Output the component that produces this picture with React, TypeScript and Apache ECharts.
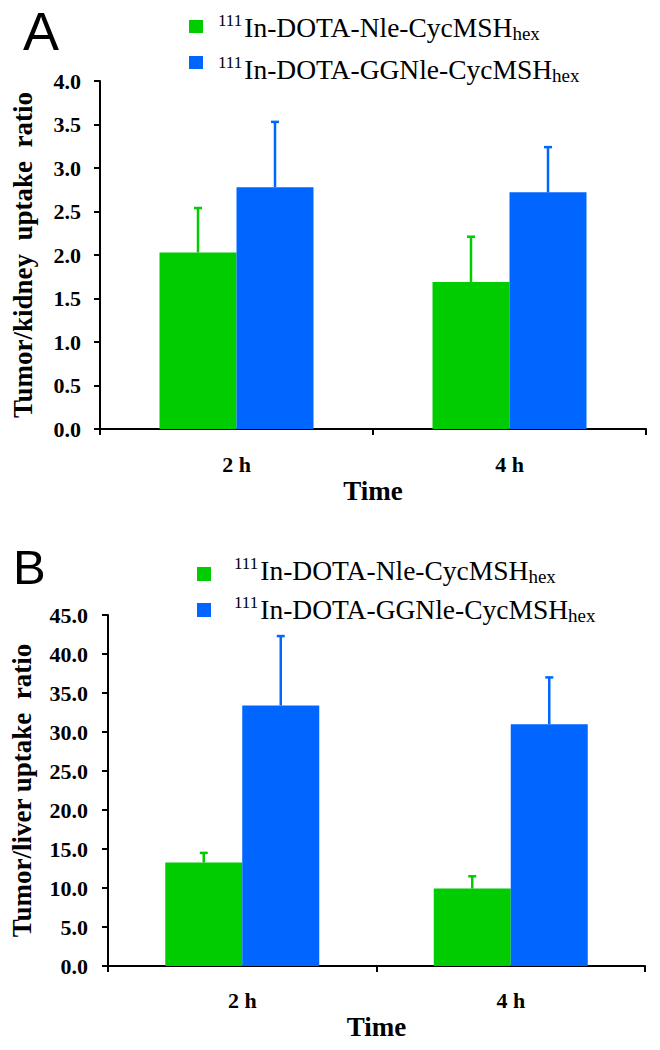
import React, { useEffect, useRef } from "react";
import * as echarts from "echarts";

// ---- data ----
const categories = ["2 h", "4 h"];
const seriesLabels = ["111In-DOTA-Nle-CycMSHhex", "111In-DOTA-GGNle-CycMSHhex"];
// Panel A: tumor/kidney uptake ratio
const kidneyNle = [2.03, 1.69];
const kidneyNleSD = [0.51, 0.52];
const kidneyGGNle = [2.78, 2.72];
const kidneyGGNleSD = [0.75, 0.52];
// Panel B: tumor/liver uptake ratio
const liverNle = [13.27, 9.93];
const liverNleSD = [1.23, 1.57];
const liverGGNle = [33.4, 31.0];
const liverGGNleSD = [8.9, 6.0];
// axis ranges
const kidneyAxis = { min: 0, max: 4, interval: 0.5 };
const liverAxis = { min: 0, max: 45, interval: 5 };

const GREEN = "#00CC00";
const BLUE = "#0066FF";
const SERIF = "Liberation Serif";
const BAR_W = 77;

function errSeries(name: string, vals: number[], sds: number[], color: string, dir: number, idx: number) {
  return {
    type: "custom",
    name: name + " SD",
    xAxisIndex: idx,
    yAxisIndex: idx,
    z: 5,
    silent: true,
    data: vals.map((v, i) => [i, v, sds[i]]),
    encode: { x: 0, y: 1 },
    renderItem: (params: any, api: any) => {
      const x = api.value(0);
      const v = api.value(1);
      const e = api.value(2);
      const base = api.coord([x, v]);
      const top = api.coord([x, v + e]);
      const cx = base[0] + (dir * BAR_W) / 2;
      return {
        type: "group",
        children: [
          { type: "line", shape: { x1: cx, y1: base[1], x2: cx, y2: top[1] }, style: { stroke: color, lineWidth: 2.5 } },
          { type: "line", shape: { x1: cx - 4, y1: top[1], x2: cx + 4, y2: top[1] }, style: { stroke: color, lineWidth: 2.5 } },
        ],
      };
    },
  };
}

function legendItems(x: number, textX: number, rows: { y: number; h: number; t: number; color: string; label: string }[]) {
  const els: any[] = [];
  rows.forEach((r) => {
    els.push({ type: "rect", shape: { x, y: r.y, width: 14, height: r.h }, style: { fill: r.color } });
    const m = r.label.match(/^(111)(.*)(hex)$/);
    els.push({
      type: "text",
      x: textX,
      y: r.t,
      style: {
        text: `{sup|${m ? m[1] : ""}}{main|${m ? m[2] : r.label}}{sub|${m ? m[3] : ""}}`,
        font: `27px "${SERIF}", serif`,
        fill: "#000",
        verticalAlign: "top",
        align: "left",
        rich: {
          sup: { font: `17px "${SERIF}", serif`, lineHeight: 12, verticalAlign: "top", fill: "#000", padding: [0, 2, 0, 0] },
          main: { font: `27.5px "${SERIF}", serif`, lineHeight: 31, verticalAlign: "middle", fill: "#000" },
          sub: { font: `19px "${SERIF}", serif`, lineHeight: 16, verticalAlign: "bottom", fill: "#000" },
        },
      },
    });
  });
  return els;
}

export default function App() {
  const ref = useRef<HTMLDivElement>(null);
  useEffect(() => {
    document.body.style.margin = "0";
    if (!ref.current) return;
    const chart = echarts.init(ref.current, undefined, { renderer: "svg" });
    const axisText = { color: "#000", fontFamily: SERIF, fontWeight: "bold" as const };
    const xAxisCommon = (gi: number, labelMargin: number, nameGap: number) => ({
      type: "category",
      gridIndex: gi,
      data: categories,
      axisLine: { show: true, lineStyle: { color: "#000", width: 2 } },
      axisTick: { show: true, length: 6, lineStyle: { color: "#000", width: 2 } },
      axisLabel: { ...axisText, fontSize: 22, margin: labelMargin },
      name: "Time",
      nameLocation: "middle",
      nameGap,
      nameTextStyle: { ...axisText, fontSize: 27 },
      splitLine: { show: false },
    });
    const yAxisCommon = (gi: number, rng: any, name: string, labelMargin: number, nameGap: number) => ({
      type: "value",
      gridIndex: gi,
      min: rng.min,
      max: rng.max,
      interval: rng.interval,
      axisLine: { show: true, lineStyle: { color: "#000", width: 2 } },
      axisTick: { show: true, length: 6, lineStyle: { color: "#000", width: 2 } },
      axisLabel: { ...axisText, fontSize: 22, margin: labelMargin, formatter: (v: number) => v.toFixed(1) },
      splitLine: { show: false },
      name,
      nameLocation: "middle",
      nameGap,
      nameRotate: 90,
      nameTextStyle: { ...axisText, fontSize: 27 },
    });
    chart.setOption({
      animation: false,
      backgroundColor: "#fff",
      grid: [
        { left: 100, right: 14, top: 81, bottom: 621 },
        { left: 108, right: 15, top: 615, bottom: 84 },
      ],
      xAxis: [xAxisCommon(0, 24, 48), xAxisCommon(1, 23, 47)],
      yAxis: [
        yAxisCommon(0, kidneyAxis, "Tumor/kidney  uptake  ratio", 19, 64),
        yAxisCommon(1, liverAxis, "Tumor/liver uptake  ratio", 20, 73),
      ],
      series: [
        { type: "bar", name: seriesLabels[0], xAxisIndex: 0, yAxisIndex: 0, data: kidneyNle, barWidth: BAR_W, barGap: "0%", itemStyle: { color: GREEN } },
        { type: "bar", name: seriesLabels[1], xAxisIndex: 0, yAxisIndex: 0, data: kidneyGGNle, barWidth: BAR_W, barGap: "0%", itemStyle: { color: BLUE } },
        errSeries(seriesLabels[0], kidneyNle, kidneyNleSD, GREEN, -1, 0),
        errSeries(seriesLabels[1], kidneyGGNle, kidneyGGNleSD, BLUE, 1, 0),
        { type: "bar", name: seriesLabels[0], xAxisIndex: 1, yAxisIndex: 1, data: liverNle, barWidth: BAR_W, barGap: "0%", itemStyle: { color: GREEN } },
        { type: "bar", name: seriesLabels[1], xAxisIndex: 1, yAxisIndex: 1, data: liverGGNle, barWidth: BAR_W, barGap: "0%", itemStyle: { color: BLUE } },
        errSeries(seriesLabels[0], liverNle, liverNleSD, GREEN, -1, 1),
        errSeries(seriesLabels[1], liverGGNle, liverGGNleSD, BLUE, 1, 1),
      ],
      graphic: [
        { type: "text", x: 23, y: 31, style: { text: "A", fontFamily: "Liberation Sans", fontSize: 54, fill: "#000", verticalAlign: "middle", align: "left" } },
        { type: "text", x: 13, y: 567, style: { text: "B", fontFamily: "Liberation Sans", fontSize: 49, fill: "#000", verticalAlign: "middle", align: "left" } },
        ...legendItems(189, 218, [
          { y: 20, h: 13, t: 12, color: GREEN, label: seriesLabels[0] },
          { y: 56, h: 13, t: 54, color: BLUE, label: seriesLabels[1] },
        ]),
        ...legendItems(197, 234, [
          { y: 567, h: 14, t: 555, color: GREEN, label: seriesLabels[0] },
          { y: 603, h: 14, t: 594, color: BLUE, label: seriesLabels[1] },
        ]),
      ],
    });
    return () => chart.dispose();
  }, []);
  return <div ref={ref} style={{ width: 660, height: 1050 }} />;
}
